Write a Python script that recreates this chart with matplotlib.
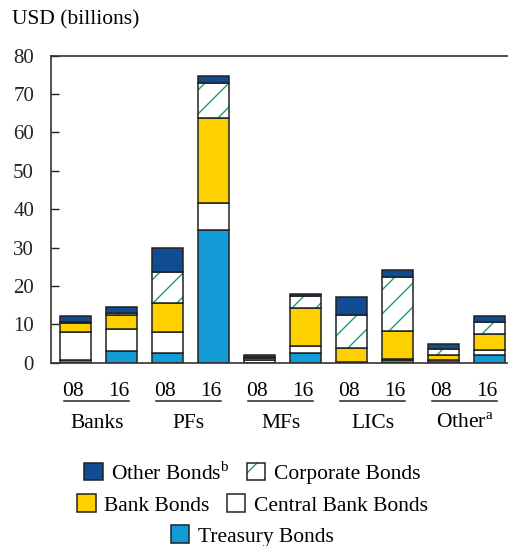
import matplotlib
matplotlib.use("Agg")
import matplotlib.pyplot as plt
import numpy as np
from matplotlib.patches import Patch
from matplotlib.transforms import blended_transform_factory

# figure is drawn at 72 dpi so the hatch cell is 72 px (denser lines);
# P converts sizes meant for 100 dpi into points at 72 dpi
P = 100 / 72

plt.rcParams['font.family'] = ['Liberation Serif', 'DejaVu Serif']
plt.rcParams['mathtext.fontset'] = 'custom'
plt.rcParams['mathtext.rm'] = 'Liberation Serif'
plt.rcParams['hatch.linewidth'] = 1.0 * P

# data (USD billions), bars in order: Banks 08/16, PFs 08/16, MFs, LICs, Other
groups = ['Banks', 'PFs', 'MFs', 'LICs', 'Other$^{\\rm a}$']
years = ['08', '16']
treasury = [0.7, 3.0, 2.4, 34.5, 0.0, 2.4, 0.1, 0.7, 0.1, 2.0]
central = [7.2, 5.8, 5.5, 7.0, 0.6, 1.9, 0.2, 0.2, 0.7, 1.3]
bank = [2.4, 3.6, 7.6, 22.3, 0.5, 10.0, 3.6, 7.4, 1.2, 4.1]
corporate = [0.4, 0.5, 8.1, 9.0, 0.4, 3.1, 8.5, 14.1, 1.6, 3.3]
other = [1.5, 1.5, 6.4, 2.0, 0.5, 0.5, 4.6, 1.7, 1.3, 1.5]
yticks = [0, 10, 20, 30, 40, 50, 60, 70, 80]

c_treas = '#129bd6'
c_bank = '#ffd000'
c_other = '#104c92'
c_hatch = '#1f9e6c'
edge = '#222222'
fs = 15.5 * P
lw = 1.1 * P

fig = plt.figure(figsize=(508 / 72, 546 / 72), dpi=72)
ax = fig.add_axes([50.7 / 508, 1 - 362.7 / 546, 1 - 50.7 / 508, 307 / 546])

x = np.arange(len(treasury))
w = 0.67
bottom = np.zeros(len(x))
for vals, col in [(treasury, c_treas), (central, 'white'), (bank, c_bank)]:
    ax.bar(x, vals, w, bottom=bottom, color=col, edgecolor=edge, linewidth=lw)
    bottom += np.array(vals)
# hatched layer: hatch drawn in green, outline on top in black
ax.bar(x, corporate, w, bottom=bottom, color='white', edgecolor=c_hatch,
       hatch='/', linewidth=0)
ax.bar(x, corporate, w, bottom=bottom, fill=False, edgecolor=edge, linewidth=lw)
bottom += np.array(corporate)
ax.bar(x, other, w, bottom=bottom, color=c_other, edgecolor=edge, linewidth=lw)

ax.set_ylim(0, 80)
ax.set_xlim(-0.54, (508 - 75.5) / 46)
ax.set_yticks(yticks)
ax.set_xticks([])
ax.tick_params(axis='y', direction='in', length=5.5 * P, width=1 * P,
               pad=12 * P, labelsize=15 * P, colors='#222222')
for s in ['left', 'top', 'bottom']:
    ax.spines[s].set_color('#333333')
    ax.spines[s].set_linewidth(1.2 * P)
ax.spines['right'].set_visible(False)

# year labels, underline and group names below the axis
tr = blended_transform_factory(ax.transData, fig.transFigure)
for i, g in enumerate(groups):
    c0, c1 = 2 * i, 2 * i + 1
    for c, yr in zip([c0, c1], years):
        ax.text(c - 0.06, 1 - 391.7 / 546, yr, transform=tr, ha='center',
                va='center', fontsize=fs, clip_on=False)
    ax.plot([c0 - 0.26, c1 + 0.17], [1 - 400.5 / 546] * 2, transform=tr,
            color='#222222', lw=lw, clip_on=False)
    ax.text((c0 + c1) / 2 - 0.04, 1 - 423 / 546, g, transform=tr, ha='center',
            va='center', fontsize=fs, clip_on=False)

fig.text(12 / 508, 1 - 20 / 546, 'USD (billions)', ha='left', va='center',
         fontsize=fs)

# legend in three centred rows
def handle(col, hatch=None):
    if hatch:
        return (Patch(facecolor='white', edgecolor=c_hatch, hatch=hatch,
                      linewidth=0),
                Patch(fill=False, edgecolor=edge, linewidth=lw))
    return Patch(facecolor=col, edgecolor=edge, linewidth=lw)

rows = [
    ([handle(c_other), handle(None, '/')],
     ['Other Bonds$^{\\rm b}$', 'Corporate Bonds'], 1 - 473 / 546),
    ([handle(c_bank), handle('white')],
     ['Bank Bonds', 'Central Bank Bonds'], 1 - 505 / 546),
    ([handle(c_treas)], ['Treasury Bonds'], 1 - 536 / 546),
]
for hs, labels, yy in rows:
    fig.legend(handles=hs, labels=labels, loc='center',
               bbox_to_anchor=(0.497, yy), ncol=len(hs), frameon=False,
               fontsize=fs, handlelength=0.85, handleheight=0.85,
               handletextpad=0.4, columnspacing=0.8, borderpad=0,
               borderaxespad=0)

fig.savefig('out.png', dpi=72)
